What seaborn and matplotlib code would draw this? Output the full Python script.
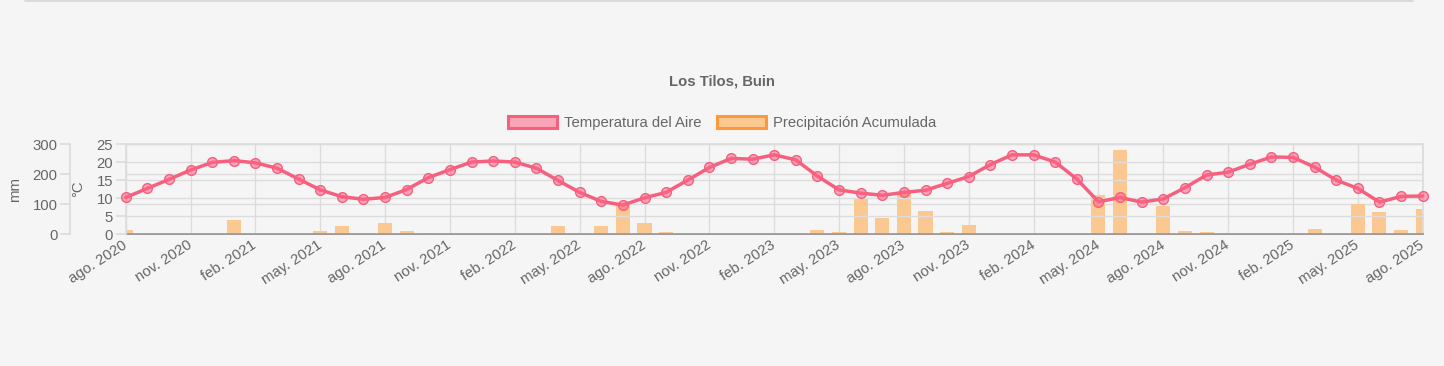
import numpy as np
import matplotlib
matplotlib.use("Agg")
import matplotlib.pyplot as plt
from matplotlib.patches import Patch
from matplotlib.lines import Line2D
import seaborn as sns

sns.set_theme(style="white")
plt.rcParams['font.family'] = ['Liberation Sans', 'DejaVu Sans']

# datos mensuales, ago. 2020 -> ago. 2025
temperatura = [10.2, 12.7, 15.2, 17.8, 19.9, 20.4, 19.8, 18.3, 15.3, 12.3, 10.4, 9.7,
               10.2, 12.4, 15.7, 17.9, 20.0, 20.3, 20.0, 18.3, 14.9, 11.6, 9.1, 8.1,
               10.1, 11.6, 15.0, 18.5, 21.0, 20.8, 22.0, 20.6, 16.1, 12.3, 11.4, 10.8,
               11.6, 12.2, 14.1, 16.0, 19.3, 22.0, 22.0, 20.0, 15.3, 9.0, 10.2, 8.9,
               9.8, 12.9, 16.4, 17.2, 19.4, 21.4, 21.3, 18.6, 15.0, 12.7, 8.9, 10.5,
               10.6]
precipitacion = [14, 2, 0, 0, 0, 47.6, 0, 0, 1.5, 11, 27.7, 0,
                 38.7, 11, 4.4, 0, 0, 0, 0, 0, 27.7, 0, 28.8, 97.4,
                 38.7, 7.7, 0, 1.5, 0, 0, 0, 0, 13, 8.9, 119.6, 55.4,
                 141.7, 76.4, 6.6, 31, 0, 0, 0, 0, 1, 130.6, 280, 0,
                 95, 10, 7.7, 0, 0, 0, 0, 16.6, 0, 100.7, 75, 13,
                 83]
meses = np.arange(len(temperatura))
etiquetas_x = ["ago. 2020", "nov. 2020", "feb. 2021", "may. 2021", "ago. 2021", "nov. 2021",
               "feb. 2022", "may. 2022", "ago. 2022", "nov. 2022", "feb. 2023", "may. 2023",
               "ago. 2023", "nov. 2023", "feb. 2024", "may. 2024", "ago. 2024", "nov. 2024",
               "feb. 2025", "may. 2025", "ago. 2025"]

BG = "#f5f5f5"
TXT = "#666666"
GRID = "#dcdcdc"
ROSA = "#f5607f"
ROSA_A = (1.0, 0.39, 0.52, 0.55)
NARANJA = "#fcc892"
NARANJA_BORDE = "#fb9a3c"
FS = 10.7

fig = plt.figure(figsize=(14.44, 3.66), dpi=100, facecolor=BG)
ax_mm = fig.add_axes([125.7 / 1444, 131.7 / 366, 1297 / 1444, 90.3 / 366])
ax_mm.set_facecolor(BG)

# barras de precipitación (eje mm)
sns.barplot(x=meses, y=precipitacion, native_scale=True, width=0.65, color=NARANJA,
            saturation=1, errorbar=None, ax=ax_mm, linewidth=0)
ax_mm.set_ylim(0, 300)
ax_mm.set_xlim(0, 60)
ax_mm.set_yticks([0, 100, 200, 300])
ax_mm.set_xticks(np.arange(0, 61, 3))
ax_mm.set_xticklabels(etiquetas_x, rotation=33, ha="right", va="center",
                      rotation_mode="anchor", color=TXT, fontsize=FS)
ax_mm.tick_params(axis="x", length=0, pad=7)
ax_mm.tick_params(axis="y", length=7, color=GRID, labelcolor=TXT, labelsize=FS, pad=2)
ax_mm.grid(True, color=GRID, linewidth=1)
ax_mm.set_axisbelow(True)
ax_mm.set_xlabel("")
ax_mm.set_ylabel("mm", color=TXT, fontsize=FS)
ax_mm.yaxis.set_label_coords(-0.080, 0.5)
for s in ["top", "right"]:
    ax_mm.spines[s].set_color(GRID)
ax_mm.spines["left"].set_position(("outward", 40))
ax_mm.spines["left"].set_color(GRID)
ax_mm.spines["bottom"].set_color("#888888")
ax_mm.spines["bottom"].set_linewidth(1.2)

# temperatura (eje °C)
ax_t = ax_mm.twinx()
sns.lineplot(x=meses, y=temperatura, ax=ax_t, color=ROSA, linewidth=2.5, marker="o",
             markersize=7, markerfacecolor=ROSA_A, markeredgecolor=ROSA,
             markeredgewidth=1.0, clip_on=False, zorder=5)
ax_t.set_ylim(0, 25)
ax_t.set_yticks([0, 5, 10, 15, 20, 25])
ax_t.yaxis.tick_left()
ax_t.yaxis.set_label_position("left")
ax_t.set_ylabel("°C", color=TXT, fontsize=FS)
ax_t.yaxis.set_label_coords(-0.0314, 0.5)
ax_t.tick_params(axis="y", length=7, color=GRID, labelcolor=TXT, labelsize=FS, pad=2)
ax_t.grid(True, axis="y", color=GRID, linewidth=1)
for s in ["top", "right", "bottom"]:
    ax_t.spines[s].set_visible(False)
ax_t.spines["left"].set_color(GRID)

# título y leyenda
fig.text(0.5, 1 - 81.5 / 366, "Los Tilos, Buin", ha="center", va="center",
         fontsize=FS, fontweight="bold", color=TXT)
handles = [Patch(facecolor=ROSA_A, edgecolor=ROSA, linewidth=2.2, label="Temperatura del Aire"),
           Patch(facecolor=NARANJA, edgecolor=NARANJA_BORDE, linewidth=2.2,
                 label="Precipitación Acumulada")]
leg = fig.legend(handles=handles, loc="center", bbox_to_anchor=(0.5, 1 - 123 / 366), ncol=2,
                 frameon=False, fontsize=FS, handlelength=3.3, handleheight=0.9,
                 handletextpad=0.5, columnspacing=1.0)
for t in leg.get_texts():
    t.set_color(TXT)

fig.add_artist(Line2D([25 / 1444, 1413 / 1444], [0.997, 0.997], color="#d6d6d6", linewidth=1.2))

fig.savefig("out.png", dpi=100, facecolor=BG)
